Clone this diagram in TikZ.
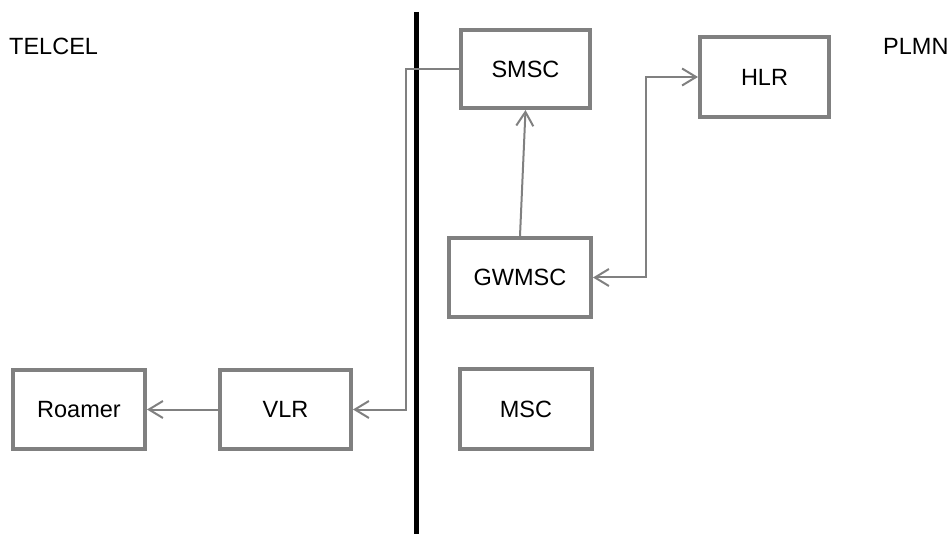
\documentclass[tikz,border=0pt]{standalone}
\usepackage{fontspec}
\setmainfont{Liberation Sans}
\usetikzlibrary{arrows.meta}
\definecolor{boxgray}{HTML}{808080}
\tikzset{
  netbox/.style={draw=boxgray, line width=4pt, fill=white, inner sep=0pt,
    font=\fontsize{23.5}{28}\selectfont},
  conn/.style={draw=boxgray, line width=2pt,
    arrows={-Straight Barb[length=14pt,width=17pt]}},
  lbl/.style={inner sep=0pt, font=\fontsize{23.5}{28}\selectfont, anchor=base west}
}
\begin{document}
\begin{tikzpicture}[x=1pt,y=-1pt]
\useasboundingbox (0,0) rectangle (952,534);
% divider
\draw[line width=5pt, black] (416.5,12) -- (416.5,534);
% labels
\node[lbl] (telcel) at (9,55) {TELCEL};
\node[lbl] (plmn) at (883,55) {PLMN};
% boxes
\node[netbox, minimum width=129pt, minimum height=78pt] (SMSC) at (525.5,69) {SMSC};
\node[netbox, minimum width=129pt, minimum height=80pt] (HLR) at (764.5,77) {HLR};
\node[netbox, minimum width=142pt, minimum height=79pt] (GWMSC) at (520,277.5) {GWMSC};
\node[netbox, minimum width=132pt, minimum height=80pt] (MSC) at (526,409) {MSC};
\node[netbox, minimum width=132pt, minimum height=79pt] (Roamer) at (79,409.5) {Roamer};
\node[netbox, minimum width=131pt, minimum height=79pt] (VLR) at (285.5,409.5) {VLR};
% connectors
\coordinate (c1) at (406,69);
\coordinate (c2) at (406,409.5);
\coordinate (c3) at (645.5,0);
\draw[conn] (SMSC.west) -- (c1) -- (c2) -- (VLR.east);
\draw[conn] (VLR.west) -- (Roamer.east);
\draw[conn] (GWMSC.north) -- (SMSC.south);
\draw[conn, arrows={Straight Barb[length=14pt,width=17pt]-Straight Barb[length=14pt,width=17pt]}] (GWMSC.east) -| (c3 |- HLR.west) -- (HLR.west);
\end{tikzpicture}
\end{document}
